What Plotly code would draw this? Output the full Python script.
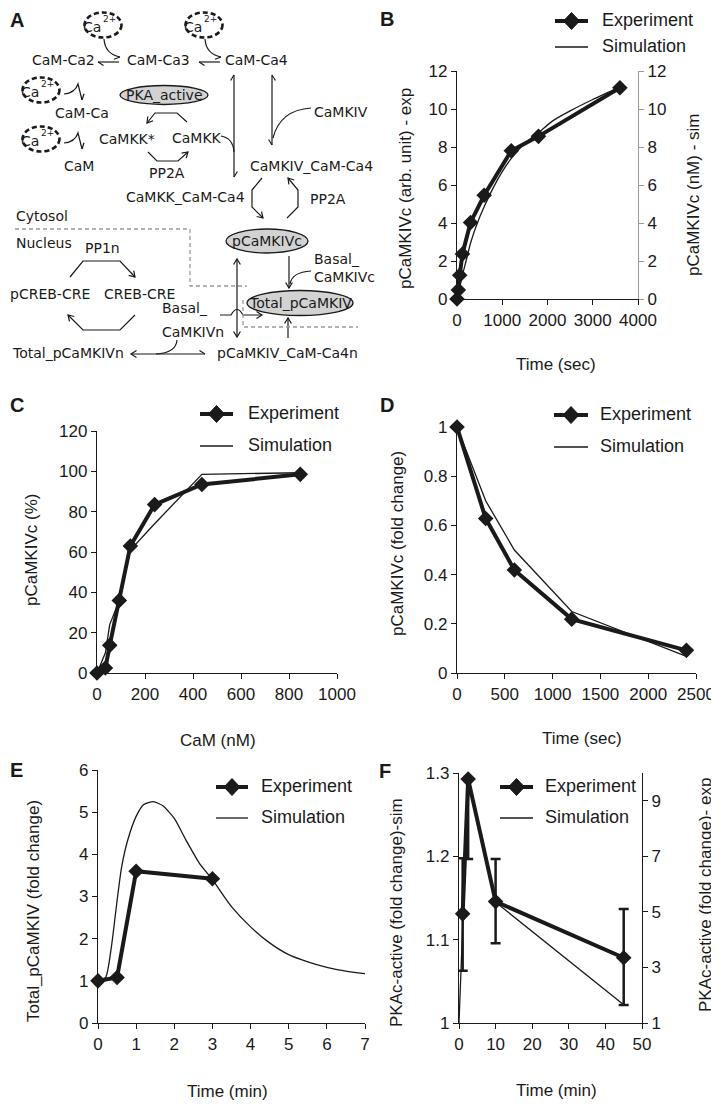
import math
import plotly.graph_objects as go

W, H = 719, 1104
OFF = 8  # page body margin: the figure is drawn 8px in from the window's corner
FW, FH = W - OFF, H - OFF

# ---------------- data ----------------
b_exp_t = [0, 30, 60, 120, 300, 600, 1200, 1800, 3600]
b_exp_v = [0, 0.47, 1.25, 2.37, 4.03, 5.46, 7.8, 8.56, 11.12]
b_sim_t = [0, 60, 120, 200, 300, 450, 600, 800, 1000, 1200, 1500, 1800, 2100, 2500, 3000, 3600]
b_sim_v = [0, 0.6, 1.25, 2.0, 2.95, 4.0, 4.85, 5.85, 6.7, 7.4, 8.2, 8.75, 9.35, 9.9, 10.5, 11.15]

c_exp_cam = [0, 35, 53, 93, 139, 240, 437, 847]
c_exp_v = [0, 2.5, 13.7, 36, 63, 83.5, 93.5, 98.5]
c_sim_cam = [0, 35, 53, 93, 139, 240, 437, 847]
c_sim_v = [0, 10, 24, 36, 61, 74, 98.5, 99.3]

d_exp_t = [0, 300, 600, 1200, 2400]
d_exp_v = [1.0, 0.628, 0.419, 0.219, 0.092]
d_sim_t = [0, 300, 600, 1200, 2400]
d_sim_v = [1.0, 0.70, 0.50, 0.25, 0.068]

e_exp_t = [0, 0.5, 1, 3]
e_exp_v = [1.0, 1.08, 3.6, 3.42]
e_sim_t = [0, 0.2, 0.35, 0.5, 0.62, 0.78, 1.0, 1.2, 1.45, 1.7, 2.0, 2.3, 2.65, 3.0, 3.5, 4.0, 4.5, 5.0, 5.5, 6.0, 6.5, 7.0]
e_sim_v = [1.0, 1.08, 1.8, 2.9, 3.7, 4.34, 4.9, 5.18, 5.25, 5.15, 4.85, 4.35, 3.8, 3.4, 2.76, 2.28, 1.9, 1.62, 1.45, 1.32, 1.23, 1.17]

f_exp_t = [1, 2.5, 10, 45]
f_exp_v = [4.93, 9.78, 5.37, 3.35]
f_exp_err_plus = [2.0, 0.0, 1.53, 1.75]
f_exp_err_minus = [2.05, 2.88, 1.5, 1.7]
f_sim_t = [0, 2.5, 10, 45]
f_sim_v = [1.0, 1.29, 1.145, 1.022]

b_ticks = [0, 2, 4, 6, 8, 10, 12]
f_right_ticks = [1, 3, 5, 7, 9]

# ---------------- helpers ----------------
INK = "#1a1a1a"
CF = "Liberation Sans, Arial, sans-serif"
DF = "DejaVu Sans, sans-serif"


def dom_x(a, b):
    return [(a - OFF) / FW, (b - OFF) / FW]


def dom_y(top, bot):
    return [1 - (bot - OFF) / FH, 1 - (top - OFF) / FH]


fig = go.Figure()


def add_exp(x, y, xa, ya, err=None):
    kw = {}
    if err is not None:
        kw["error_y"] = dict(type="data", symmetric=False, array=err[0], arrayminus=err[1],
                             color=INK, thickness=2.5, width=5)
    fig.add_trace(go.Scatter(x=x, y=y, xaxis=xa, yaxis=ya, mode="lines+markers", name="Experiment",
                             line=dict(color=INK, width=4),
                             marker=dict(symbol="diamond", size=12, color=INK),
                             cliponaxis=False, showlegend=False, **kw))


def add_sim(x, y, xa, ya, smooth=False):
    line = dict(color=INK, width=1.3)
    if smooth:
        line.update(shape="spline", smoothing=0.6)
    fig.add_trace(go.Scatter(x=x, y=y, xaxis=xa, yaxis=ya, mode="lines", name="Simulation",
                             line=line, cliponaxis=False, showlegend=False))


add_sim(b_sim_t, b_sim_v, "x", "y2", smooth=True)
add_exp(b_exp_t, b_exp_v, "x", "y")
add_sim(c_sim_cam, c_sim_v, "x2", "y3")
add_exp(c_exp_cam, c_exp_v, "x2", "y3")
add_sim(d_sim_t, d_sim_v, "x3", "y4")
add_exp(d_exp_t, d_exp_v, "x3", "y4")
add_sim(e_sim_t, e_sim_v, "x4", "y5", smooth=True)
add_exp(e_exp_t, e_exp_v, "x4", "y5")
add_sim(f_sim_t, f_sim_v, "x5", "y6")
add_exp(f_exp_t, f_exp_v, "x5", "y7", err=(f_exp_err_plus, f_exp_err_minus))
# pixel-space helper subplot for the diagram, legends and labels
fig.add_trace(go.Scatter(x=[], y=[], xaxis="x6", yaxis="y8", showlegend=False, hoverinfo="skip"))

AX = dict(showgrid=False, zeroline=False, showline=True, linecolor=INK, linewidth=1.3,
          ticks="outside", ticklen=5, tickwidth=1.3, tickcolor=INK, automargin=False,
          tickfont=dict(family=CF, size=17, color=INK))


def axis(**kw):
    d = dict(AX)
    d.update(kw)
    return d


GRAY = "#9a9a9a"
layout = dict(
    width=FW, height=FH, autosize=False,
    margin=dict(l=0, r=0, t=0, b=0, pad=0, autoexpand=False),
    paper_bgcolor="white", plot_bgcolor="rgba(0,0,0,0)", showlegend=False,
    # B
    xaxis=axis(domain=dom_x(457, 638), range=[0, 4000], dtick=1000, anchor="y"),
    yaxis=axis(domain=dom_y(71, 299), range=[0, 12], tickvals=b_ticks, anchor="x"),
    yaxis2=axis(overlaying="y", side="right", anchor="x", range=[0, 12], tickvals=b_ticks,
                linecolor=GRAY, tickcolor=GRAY),
    # C
    xaxis2=axis(domain=dom_x(97, 337), range=[0, 1000], dtick=200, anchor="y3"),
    yaxis3=axis(domain=dom_y(431, 673), range=[0, 120], dtick=20, anchor="x2"),
    # D
    xaxis3=axis(domain=dom_x(457, 696), range=[0, 2500], dtick=500, anchor="y4"),
    yaxis4=axis(domain=dom_y(427, 673), range=[0, 1], dtick=0.2, anchor="x3"),
    # E
    xaxis4=axis(domain=dom_x(98, 365), range=[0, 7], dtick=1, anchor="y5"),
    yaxis5=axis(domain=dom_y(770, 1023), range=[0, 6], dtick=1, anchor="x4"),
    # F
    xaxis5=axis(domain=dom_x(459, 642), range=[0, 50], dtick=10, anchor="y6"),
    yaxis6=axis(domain=dom_y(773, 1023), range=[1, 1.3], dtick=0.1, anchor="x5"),
    yaxis7=axis(overlaying="y6", side="right", anchor="x5", range=[1, 10], tickvals=f_right_ticks),
    # pixel space (window coordinates)
    xaxis6=dict(domain=[0, 1], range=[OFF, W], visible=False, anchor="y8", fixedrange=True, automargin=False),
    yaxis8=dict(domain=[0, 1], range=[H, OFF], visible=False, anchor="x6", fixedrange=True, automargin=False),
)
fig.update_layout(**layout)

shapes = []
annots = []


def P(pts):
    return "M " + " L ".join(f"{x},{y}" for x, y in pts)


def add_path(d, width=1.2, color=INK, dash=None):
    line = dict(color=color, width=width)
    if dash:
        line["dash"] = dash
    shapes.append(dict(type="path", xref="x6", yref="y8", path=d, line=line))


def head(tip, prev, side="both", L=6.5, ang=32):
    dx, dy = tip[0] - prev[0], tip[1] - prev[1]
    n = math.hypot(dx, dy)
    ux, uy = dx / n, dy / n
    pts = []
    for s in (1, -1):
        a = math.radians(ang * s)
        bx = -ux * math.cos(a) + uy * math.sin(a)
        by = -ux * math.sin(a) - uy * math.cos(a)
        pts.append((tip[0] + L * bx, tip[1] + L * by))
    if side == "both":
        d = f"M {pts[0][0]:.1f},{pts[0][1]:.1f} L {tip[0]},{tip[1]} L {pts[1][0]:.1f},{pts[1][1]:.1f}"
    else:
        p = pts[0] if side == "a" else pts[1]
        d = f"M {p[0]:.1f},{p[1]:.1f} L {tip[0]},{tip[1]}"
    add_path(d)


def poly_arrow(pts, start=None, end="both"):
    add_path(P(pts))
    if end:
        head(pts[-1], pts[-2], end)
    if start:
        head(pts[0], pts[1], start)


def text(t, x, y, anchor="center", size=14, family=DF, color=INK, angle=0, bold=False, pad=1):
    if bold:
        t = f"<b>{t}</b>"
    annots.append(dict(xref="x6", yref="y8", x=x, y=y, text=t, showarrow=False,
                       xanchor=anchor, yanchor="middle", textangle=angle, borderpad=pad,
                       font=dict(family=family, size=size, color=color)))


def ellipse(cx, cy, rx, ry, fill=None, dash=None, width=1.3):
    line = dict(color=INK, width=width)
    if dash:
        line["dash"] = dash
    s = dict(type="circle", xref="x6", yref="y8", x0=cx - rx, x1=cx + rx, y0=cy - ry, y1=cy + ry, line=line)
    if fill:
        s["fillcolor"] = fill
    shapes.append(s)


# ---------------- panel A diagram ----------------
for cx, cy in [(103, 25), (204, 25), (41, 90), (41, 139)]:
    ellipse(cx, cy, 18.5, 12.5, dash="5px,3px", width=2.6)
    text("Ca", cx - 1, cy + 2, anchor="right", size=14, pad=0)
    text("2+", cx - 1, cy - 6, anchor="left", size=9, pad=0)

ellipse(164, 95, 44, 9.5, fill="#d2d2d2")
ellipse(267, 241, 41, 12, fill="#d2d2d2")
ellipse(300, 303, 53, 12.5, fill="#d2d2d2")

# Ca binding steps
for dx in (0, 101):
    add_path(f"M {104+dx},39 Q {105+dx},54 {120+dx},57")
    head((120 + dx, 57), (105 + dx, 54), "b")
    add_path(f"M {119+dx},62 L {98+dx},62")
    head((98 + dx, 62), (119 + dx, 62), "a")
for dy in (0, 49):
    add_path(f"M 64,{94+dy} Q 75,{93+dy} 78,{84+dy} L 82,{100+dy}")
    head((82, 100 + dy), (78, 84 + dy), "a")

# CaMKK activation cycle
poly_arrow([(187, 122), (177, 113), (155, 113), (147, 123)])
poly_arrow([(148, 152), (157, 161), (178, 161), (188, 152)])

# CaMKK_CaM-Ca4 formation
add_path("M 234,75 L 234,177")
head((234, 177), (234, 167), "a")
head((234, 75), (234, 85), "a")
add_path("M 221,136 Q 233,138 234,152")

# CaMKIV_CaM-Ca4 formation
add_path("M 272,75 L 272,145")
head((272, 145), (272, 135), "b")
head((272, 75), (272, 85), "b")
add_path("M 311,108 Q 280,110 273,138")

# phosphorylation / dephosphorylation of CaMKIV
poly_arrow([(262, 178), (252, 190), (252, 207), (263, 218)])
poly_arrow([(287, 218), (298, 207), (298, 190), (288, 178)])

# Basal_CaMKIVc
poly_arrow([(289, 256), (289, 288)])
add_path("M 311,271 Q 292,272 290,284")

# nuclear transport
poly_arrow([(237, 259), (237, 337)], start="both")
add_path("M 220,315 L 231,315 Q 237,304 243,315 L 262,315")
head((262, 315), (243, 315))
poly_arrow([(288, 338), (288, 318)])

# CREB cycle
poly_arrow([(70, 277), (83, 261), (120, 261), (135, 277)])
poly_arrow([(135, 315), (120, 330), (83, 330), (68, 315)])

# pCaMKIV_CaM-Ca4n -> Total_pCaMKIVn
poly_arrow([(205, 354), (131, 354)])
head((205, 354), (195, 354), "a")
add_path("M 177,340 Q 176,353 156,354")

# compartment boundary
add_path("M 15,229 L 190,229 L 190,286 L 247,286", width=1.3, color="#9a9a9a", dash="4px,3px")
add_path("M 243,300 L 243,327 L 358,327", width=1.3, color="#9a9a9a", dash="4px,3px")

labels = [
    ("CaM-Ca2", 63, 60, "center"), ("CaM-Ca3", 158, 60, "center"), ("CaM-Ca4", 256, 60, "center"),
    ("CaM-Ca", 82, 113, "center"), ("CaM", 79, 166, "center"), ("PKA_active", 164, 95, "center"),
    ("CaMKK*", 127, 139, "center"), ("CaMKK", 197, 138, "center"), ("PP2A", 167, 173, "center"),
    ("CaMKIV", 312, 112, "left"), ("CaMKIV_CaM-Ca4", 248, 166, "left"),
    ("CaMKK_CaM-Ca4", 185, 197, "center"), ("PP2A", 308, 199, "left"),
    ("Cytosol", 14, 216, "left"), ("Nucleus", 14, 243, "left"), ("PP1n", 102, 248, "center"),
    ("pCaMKIVc", 267, 241, "center"), ("Basal_", 312, 259, "left"), ("CaMKIVc", 312, 277, "left"),
    ("pCREB-CRE", 50, 294, "center"), ("CREB-CRE", 139, 294, "center"),
    ("Total_pCaMKIV", 300, 303, "center"), ("Basal_", 160, 308, "left"), ("CaMKIVn", 160, 332, "left"),
    ("Total_pCaMKIVn", 68, 353, "center"), ("pCaMKIV_CaM-Ca4n", 287, 353, "center"),
]
for t, x, y, a in labels:
    text(t, x, y, a)

# ---------------- panel letters ----------------
for t, x, y in [("A", 9, 20), ("B", 379, 19), ("C", 9, 405), ("D", 379, 405), ("E", 9, 770), ("F", 378, 771)]:
    text(t, x, y, "left", size=20, family=CF, bold=True, pad=0)

# ---------------- axis titles ----------------
titles = [
    ("Time (sec)", 556, 364, 0), ("pCaMKIVc (arb. unit) - exp", 405, 189, -90),
    ("pCaMKIVc (nM) - sim", 693, 195, -90),
    ("CaM (nM)", 218, 740, 0), ("pCaMKIVc (%)", 31, 550, -90),
    ("Time (sec)", 582, 738, 0), ("pCaMKIVc (fold change)", 397, 544, -90),
    ("Time (min)", 227, 1091, 0), ("Total_pCaMKIV (fold change)", 33, 911, -90),
    ("Time (min)", 556, 1090, 0), ("PKAc-active (fold change)-sim", 396, 913, -90),
    ("PKAc-active (fold change)- exp", 705, 895, -90),
]
for t, x, y, a in titles:
    text(t, x, y, "center", size=17, family=CF, angle=a)

# ---------------- legends ----------------
for x0, x1, ye, ys, xt in [(555, 588, 21, 47, 601), (200, 233, 414, 446, 247), (554, 588, 415, 447, 599),
                           (216, 248, 787, 818, 260), (500, 533, 787, 818, 544)]:
    add_path(f"M {x0},{ye} L {x1},{ye}", width=4)
    cx = (x0 + x1) / 2
    shapes.append(dict(type="path", xref="x6", yref="y8",
                       path=f"M {cx-8},{ye} L {cx},{ye-8.5} L {cx+8},{ye} L {cx},{ye+8.5} Z",
                       fillcolor=INK, line=dict(color=INK, width=1)))
    add_path(f"M {x0},{ys} L {x1},{ys}", width=1.3)
    text("Experiment", xt, ye - 1, "left", size=18, family=CF, pad=0)
    text("Simulation", xt, ys - 1, "left", size=18, family=CF, pad=0)

fig.update_layout(shapes=shapes, annotations=annots)
fig.write_html("out.html")
